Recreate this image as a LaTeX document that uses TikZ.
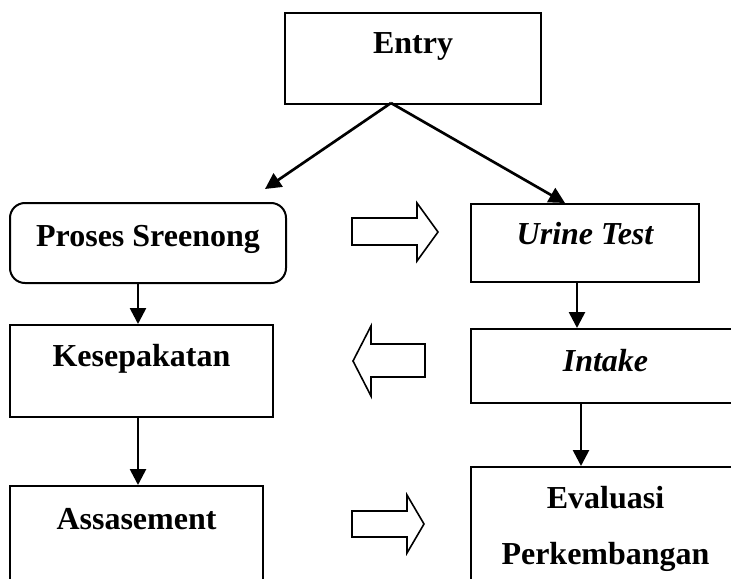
\documentclass[tikz,border=0pt]{standalone}
\usepackage{fontspec}
\setmainfont{Liberation Serif}
\usepackage{tikz}
\usetikzlibrary{positioning}
\usetikzlibrary{arrows.meta}
\tikzset{>={Triangle[length=6pt,width=6pt]}}
\tikzset{
  stage/.style={draw, line width=.75pt, anchor=north, inner xsep=0pt, inner ysep=0pt,
    font=\fontsize{12}{14.4}\selectfont\bfseries},
  flow/.style={->, line width=1pt},
  blockarrow/.style={draw, line width=.6pt}
}

\begin{document}
\begin{tikzpicture}[x=0.375pt, y=-0.375pt]
\useasboundingbox (0, 0) rectangle (731, 578);
\clip (0, 0) rectangle (731, 578);
% boxes
\node[stage, minimum width=96pt, text height=15pt, text depth=19.125pt] (entry) at (413, 12) {Entry};
\node[stage, rounded corners=5.6pt, minimum width=103.5pt, text height=16.125pt, text depth=13.875pt] (proses) at (148, 202) {Proses Sreenong};
\node[stage, minimum width=85.5pt, text height=15pt, text depth=14.25pt] (urine) at (585, 203) {\itshape Urine Test};
\node[stage, minimum width=98.625pt, text height=15.375pt, text depth=19.125pt] (kesep) at (141.5, 324) {Kesepakatan};
\node[stage, minimum width=100.875pt, text height=15.75pt, text depth=12pt] (intake) at (605.5, 328) {\itshape Intake};
\node[stage, minimum width=94.875pt, text height=16.125pt, text depth=34.5pt] (assess) at (136.5, 485) {Assasement};
\node[stage, minimum width=100.875pt, text height=15.375pt, text depth=42.5pt] (eval) at (605.5, 466)
  {\begin{tabular}[t]{@{}c@{}}Evaluasi\\[6.6pt]Perkembangan\end{tabular}};
% connectors
\coordinate (fork) at (391, 103);
\coordinate (lefttip) at (265, 189);
\coordinate (righttip) at (565, 203);
\coordinate (leftcol) at (138, 0);
\coordinate (midcol) at (577, 0);
\coordinate (lowcol) at (581, 0);
\draw[flow] (fork) -- (lefttip);
\draw[flow] (fork) -- (righttip);
\draw[flow] (proses.south -| leftcol) -- (kesep.north -| leftcol);
\draw[flow] (kesep.south -| leftcol) -- (assess.north -| leftcol);
\draw[flow] (urine.south -| midcol) -- (intake.north -| midcol);
\draw[flow] (intake.south -| lowcol) -- (eval.north -| lowcol);
% block arrows
\draw[blockarrow] (352, 218) -- (417, 218) -- (417, 203) -- (438, 232) -- (417, 261) -- (417, 245) -- (352, 245) -- cycle;
\draw[blockarrow] (425, 344) -- (371, 344) -- (371, 326) -- (353, 361) -- (371, 396) -- (371, 377) -- (425, 377) -- cycle;
\draw[blockarrow] (352, 511) -- (407, 511) -- (407, 495) -- (424, 524) -- (407, 553) -- (407, 537) -- (352, 537) -- cycle;
\end{tikzpicture}
\end{document}
